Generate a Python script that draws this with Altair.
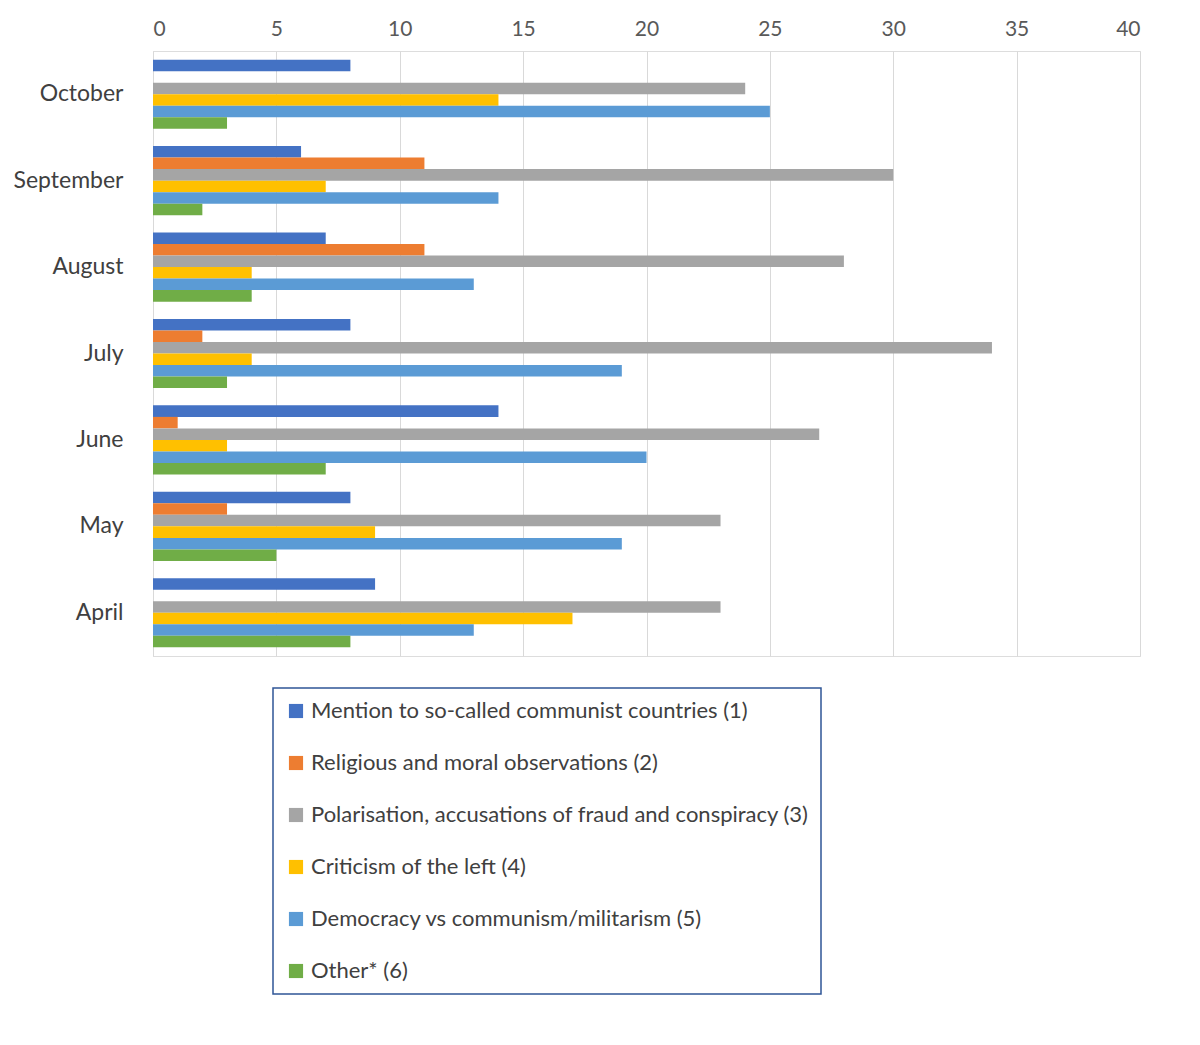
import altair as alt
import pandas as pd

months = ["October", "September", "August", "July", "June", "May", "April"]
series = [
    "Mention to so-called communist countries (1)",
    "Religious and moral observations (2)",
    "Polarisation, accusations of fraud and conspiracy (3)",
    "Criticism of the left (4)",
    "Democracy vs communism/militarism (5)",
    "Other* (6)",
]
colors = ["#4472C4", "#ED7D31", "#A5A5A5", "#FFC000", "#5B9BD5", "#70AD47"]

# values per series, in month order above
s1 = [8, 6, 7, 8, 14, 8, 9]
s2 = [0, 11, 11, 2, 1, 3, 0]
s3 = [24, 30, 28, 34, 27, 23, 23]
s4 = [14, 7, 4, 4, 3, 9, 17]
s5 = [25, 14, 13, 19, 20, 19, 13]
s6 = [3, 2, 4, 3, 7, 5, 8]

rows = []
for name, vals in zip(series, [s1, s2, s3, s4, s5, s6]):
    for m, v in zip(months, vals):
        rows.append({"month": m, "series": name, "value": v})
df = pd.DataFrame(rows)

chart = alt.Chart(df).mark_bar().encode(
    x=alt.X("value:Q", scale=alt.Scale(domain=[0, 40]),
            axis=alt.Axis(orient="top", title=None, values=list(range(0, 41, 5)),
                          domain=False, ticks=False, labelFontSize=21,
                          labelColor="#595959", gridColor="#d9d9d9", labelPadding=12)),
    y=alt.Y("month:N", sort=months, scale=alt.Scale(paddingInner=0.2, paddingOuter=0.1),
            axis=alt.Axis(title=None, ticks=False, grid=False, labelFontSize=23,
                          labelColor="#404040", domainColor="#d9d9d9", labelPadding=30)),
    yOffset=alt.YOffset("series:N", sort=series),
    color=alt.Color("series:N", sort=series,
                    scale=alt.Scale(domain=series, range=colors),
                    legend=alt.Legend(title=None, orient="none", legendX=120, legendY=637,
                                      direction="vertical", symbolType="square",
                                      symbolSize=200, labelFontSize=22, labelColor="#404040",
                                      labelLimit=700, rowPadding=30, padding=12,
                                      strokeColor="#2F5597")),
).properties(
    width=987, height=605,
    padding={"left": 5, "top": 10, "right": 20, "bottom": 5},
).configure_view(stroke=None).configure(font="Lato").configure_legend(strokeWidth=1.5)

chart.save("out.html", embed_options={"renderer": "svg", "actions": False})
